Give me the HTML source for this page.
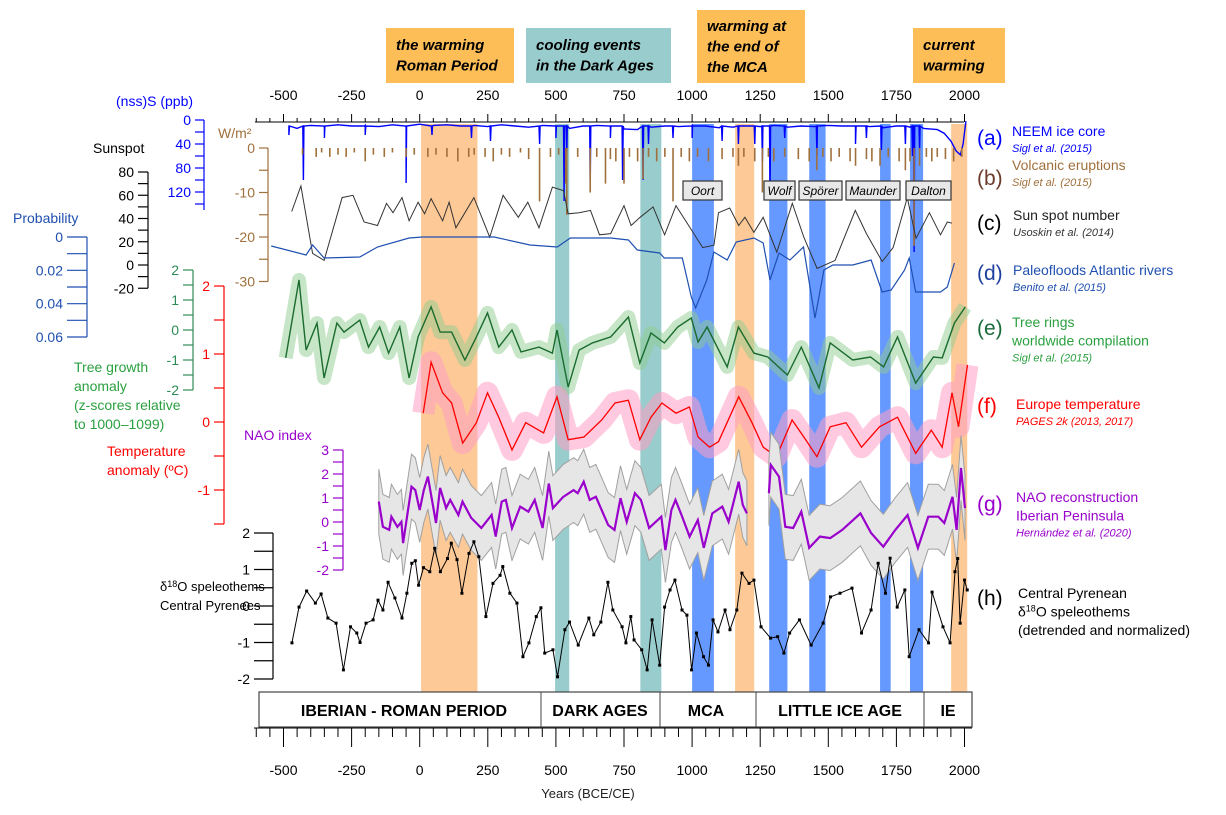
<!DOCTYPE html>
<html><head><meta charset="utf-8"><style>
html,body{margin:0;padding:0;background:#fff;}
svg text{font-family:"Liberation Sans",Arial,sans-serif;}
</style></head><body>
<svg id="chart" width="1226" height="810" viewBox="0 0 1226 810" xmlns="http://www.w3.org/2000/svg">
<g id="bands"></g>
<g id="series"></g>
<g id="axes"></g>
<g id="labels"></g>
</svg>
<script>
// ---------- DATA ----------
const axisTicks = [-500,-250,0,250,500,750,1000,1250,1500,1750,2000];
const bandStart = [5,497,810,1000,1158,1283,1430,1690,1800,1951];
const bandEnd   = [212,549,887,1080,1228,1350,1490,1729,1848,2010];
const bandKind  = ['warm','cool','cool','min','warm','min','min','min','min','warm'];
const minimaNames = ['Oort','Wolf','Spörer','Maunder','Dalton'];
const periodNames = ['IBERIAN - ROMAN PERIOD','DARK AGES','MCA','LITTLE ICE AGE','IE'];

const neemBaseYears = [-480,-450,-400,-350,-300,-250,-200,-150,-100,-50,0,50,100,150,200,250,300,350,400,450,500,550,600,650,700,750,800,850,900,950,1000,1050,1100,1150,1200,1250,1300,1350,1400,1450,1500,1550,1600,1650,1700,1750,1800,1850,1900,1925,1950,1970,1985,1995,2005];
const neemBaseVals  = [10,14,9,12,8,10,9,11,8,12,7,9,8,10,9,11,8,10,12,9,10,14,10,9,11,15,16,12,10,11,9,10,13,12,10,11,9,12,10,11,9,10,12,11,13,10,12,14,16,22,35,52,58,40,2];
const neemSpikeYears = [-480,-427,-350,-200,-50,45,190,260,440,500,530,540,626,700,745,820,840,930,1000,1110,1170,1230,1258,1286,1340,1458,1600,1640,1695,1783,1809,1815,1835];
const neemSpikeVals  = [25,100,30,25,105,25,30,35,40,30,135,60,110,30,100,100,40,30,30,35,40,40,70,130,30,60,40,30,50,40,60,220,50];

const volcYears = [-430,-380,-360,-330,-300,-270,-240,-200,-170,-130,-100,-50,-20,30,60,100,140,180,200,240,270,300,330,370,400,440,480,510,536,540,580,626,650,682,700,720,750,770,800,820,840,870,900,930,960,990,1020,1060,1110,1150,1170,1190,1230,1258,1280,1300,1340,1390,1430,1458,1480,1510,1540,1580,1600,1640,1660,1690,1720,1760,1783,1800,1815,1835,1860,1880,1900,1930,1960,1990];
const volcVals  = [-1.5,-2,-1,-2,-1.5,-2,-1,-3,-1.5,-2,-1,-2,-1.5,-2,-1.5,-2,-3,-2,-1.5,-2,-3,-1.5,-2,-1,-2.5,-12,-2,-1.5,-8,-15,-2,-10,-2,-8,-2.5,-3,-8,-2,-3,-7,-2,-3,-2,-12,-2,-3,-2,-3,-2.5,-2,-4,-2,-3,-10,-2,-3,-2,-2.5,-3,-5,-2,-3,-2,-3,-4,-2.5,-3,-4,-2,-3,-5,-3,-22,-4,-2,-3,-2,-2.5,-3,-2];

const sunYears = [-470,-436,-393,-351,-285,-245,-204,-155,-122,-98,-65,-39,-6,18,42,84,108,133,199,257,306,362,397,438,487,528,545,585,627,660,701,750,776,809,857,899,941,998,1039,1080,1097,1138,1171,1194,1227,1261,1311,1368,1410,1459,1525,1599,1640,1698,1738,1790,1822,1871,1912,1937,1954];
const sunVals  = [46,68,10,4,58,60,37,34,53,45,58,38,54,44,57,38,54,32,58,24,60,41,54,32,67,64,44,45,47,26,27,51,34,41,50,26,51,30,15,17,45,49,34,41,28,41,11,53,24,-3,4,47,27,3,15,58,23,45,26,37,36];

const probYears = [-545,-417,-393,-351,-220,-155,-39,10,273,405,505,553,701,766,799,881,898,964,997,1013,1054,1080,1129,1162,1227,1261,1286,1319,1359,1409,1451,1484,1517,1590,1657,1698,1731,1780,1797,1821,1912,1937,1963];
const probVals  = [0.0054,0.0108,0.0048,0.0126,0.012,0.006,0.0006,0,0,0.0048,0.006,0.0006,0.0006,0.0018,0.0078,0.0096,0.0126,0.0126,0.036,0.0426,0.0258,0.009,0.0138,0.003,0.0006,0.0036,0.0258,0.0096,0.0138,0.006,0.0486,0.0198,0.0168,0.0168,0.0138,0.033,0.0318,0.0198,0.0126,0.033,0.033,0.03,0.0156];

const treeYears = [-492,-443,-417,-377,-351,-304,-278,-220,-188,-147,-114,-73,-39,-6,42,75,117,166,208,249,290,339,372,438,487,504,545,585,634,701,766,808,849,898,947,997,1022,1055,1129,1170,1227,1278,1350,1401,1466,1507,1590,1655,1703,1754,1821,1886,1918,1963,2003];
const treeVals  = [-0.93,1.67,-0.67,0.23,-1.6,0.23,-0.07,0.33,-0.57,0.1,-0.77,0.1,-1.6,-0.23,0.77,-0.07,-0.07,-1.0,-0.23,0.57,-0.57,0,-0.73,-0.57,-0.77,0,-1.9,-0.67,-0.43,-0.23,0.43,-1.1,-0.1,-0.43,0.1,0.4,-0.4,0.1,-1.23,0.1,-0.77,-0.9,-1.5,-0.57,-1.93,-0.43,-1.0,-0.9,-1.23,-0.23,-1.77,-0.9,-0.93,0.23,0.77];

const tempYears = [13,42,84,117,158,208,249,290,339,389,455,504,545,603,668,717,766,808,849,889,941,990,1022,1064,1097,1171,1220,1261,1310,1367,1417,1458,1507,1565,1622,1688,1754,1821,1878,1918,1954,1978,2011];
const tempVals  = [0.13,0.88,0.43,0.28,-0.31,-0.01,0.43,0.07,-0.41,-0.01,-0.16,0.37,-0.26,-0.22,0.03,0.28,0.32,-0.26,0.07,0.28,0.13,0.22,-0.22,-0.37,-0.29,0.37,-0.01,-0.37,-0.51,0.03,-0.26,-0.51,-0.07,-0.01,-0.37,-0.07,0.07,-0.46,-0.12,-0.37,0.43,-0.07,0.84];

const naoYearsA = [-150,-135,-112,-104,-82,-67,-61,-30,-16,0,15,30,60,75,97,112,142,157,189,226,264,279,301,316,339,369,399,422,451,474,489,527,565,580,602,624,647,692,715,737,760,790,812,842,887,902,924,939,961,991,1021,1043,1074,1111,1134,1171,1186,1201];
const naoValsA  = [0.85,-0.2,-0.33,0.22,-0.2,0.01,-0.88,1.47,1.33,0.5,1.33,1.89,-0.04,1.42,0.58,0.92,0.29,0.85,0.17,-0.25,0.29,-0.61,0.85,0.92,-0.25,0.64,0.43,0.92,-0.25,1.6,0.58,1.05,1.33,1.2,1.68,0.92,1.05,-0.13,-0.33,0.99,0.01,1.2,0.92,-0.25,0.22,-1.17,0.5,0.92,0.29,-0.61,0.08,-1.08,0.36,0.64,0.01,1.68,0.71,0.36];
const naoYearsB = [1282,1289,1319,1342,1371,1401,1430,1469,1507,1551,1618,1657,1702,1746,1791,1829,1867,1904,1926,1956,1971,1987,2002];
const naoValsB  = [1.2,2.38,1.89,-0.2,-0.25,0.43,-1.08,-0.61,-0.67,-0.33,0.36,-0.46,-1.03,-0.33,0.29,-1.08,0.22,0.22,-0.04,1.05,-0.33,2.25,0.58];
const naoHalfWidth = 1.35;

const spelYears = [-469,-443,-415,-383,-362,-337,-307,-280,-254,-231,-219,-197,-171,-153,-135,-116,-91,-65,-47,-29,-16,-4,14,37,55,76,102,116,137,155,181,199,217,243,269,295,305,331,357,379,401,428,445,459,489,506,533,550,582,621,639,665,691,709,743,757,775,787,815,835,853,881,899,919,937,963,981,998,1016,1042,1060,1077,1095,1121,1139,1164,1183,1209,1227,1253,1288,1314,1337,1358,1394,1437,1481,1508,1543,1587,1622,1657,1683,1710,1727,1753,1781,1797,1833,1868,1881,1921,1947,1965,1975,1984,2000,2010];
const spelVals  = [-1.01,-0.03,0.41,0.08,0.33,-0.33,-0.47,-1.75,-0.57,-0.74,-1.0,-0.47,-0.38,0.16,-0.11,0.65,0.22,-0.33,0.35,1.17,1.24,0.57,1.05,0.94,1.58,0.94,1.3,1.72,1.27,0.35,1.44,1.76,1.35,-0.29,0.62,0.84,1.08,0.35,0.08,-1.39,-1.01,-0.29,-0.05,-1.29,-1.2,-1.94,-0.65,-0.44,-1.07,-0.33,-0.79,-0.44,0.65,-0.11,-0.57,-1.01,-0.29,-0.93,-1.2,-1.75,-0.38,-1.62,-0.03,0.44,0.71,-0.11,-0.25,-1.75,-0.74,-1.39,-1.62,-0.38,-0.71,-0.11,-0.65,-0.11,0.9,0.62,0.71,-0.57,-0.88,-0.84,-1.29,-0.74,-0.38,-1.07,-0.47,0.25,0.35,0.49,-0.74,-0.11,1.17,0.35,1.31,-0.03,0.44,-1.39,-0.65,-1.01,0.38,-0.57,-1.01,0.94,1.3,-0.47,0.71,0.44];

// ---------- SCALES ----------
const X = yr => 283.5 + (yr + 500) * 0.2724;
const yS = v => 120 + v * 0.6;
const yV = f => 148 - f * 4.45;
const ySun = v => 265 - v * (93 / 80);
const yP = v => 237 + v / 0.06 * 100;
const yT = v => 330 - v * 30;
const yTe = v => 422 - v * 68;
const yN = v => 522 - v * 24;
const yH = v => 606 - v * 36.5;

const NS = 'http://www.w3.org/2000/svg';
function mk(tag, attrs, parent, txt) {
  const e = document.createElementNS(NS, tag);
  for (const k in attrs) e.setAttribute(k, attrs[k]);
  if (txt !== undefined) e.textContent = txt;
  parent.appendChild(e);
  return e;
}
function pathFrom(xs, ys, fx, fy) {
  return xs.map((x, i) => (i ? 'L' : 'M') + fx(x).toFixed(1) + ',' + fy(ys[i]).toFixed(1)).join('');
}
const gB = document.getElementById('bands');
const gS = document.getElementById('series');
const gA = document.getElementById('axes');
const gL = document.getElementById('labels');

// ---------- BANDS ----------
const bandColor = {warm:'#FDC996', cool:'#99CCCC', min:'#6699FF'};
bandStart.forEach((s, i) => {
  const r = mk('rect', {x: X(s), y: 124, width: X(bandEnd[i]) - X(s), height: 569, fill: bandColor[bandKind[i]]}, gB);
  
  
});

// ---------- (a) NEEM ----------
{
  const pts = [];
  neemBaseYears.forEach((y, i) => pts.push([y, neemBaseVals[i]]));
  neemSpikeYears.forEach((y, i) => { pts.push([y - 2, 10]); pts.push([y, neemSpikeVals[i]]); pts.push([y + 2, 10]); });
  pts.sort((a, b) => a[0] - b[0]);
  const p = mk('path', {d: pathFrom(pts.map(p => p[0]), pts.map(p => p[1]), X, yS), fill: 'none', stroke: '#0000FF', 'stroke-width': 1.4}, gS);
  
  
}
// ---------- (b) Volcanic ----------
volcYears.forEach((y, i) => {
  const l = mk('line', {x1: X(y), x2: X(y), y1: 148, y2: yV(volcVals[i]), stroke: '#A0703C', 'stroke-width': 1.6}, gS);
  
  
});
// ---------- (c) Sunspot ----------
{
  const p = mk('path', {d: pathFrom(sunYears, sunVals, X, ySun), fill: 'none', stroke: '#333', 'stroke-width': 1}, gS);
  
  
}
// ---------- (d) Paleofloods ----------
{
  const p = mk('path', {d: pathFrom(probYears, probVals, X, yP), fill: 'none', stroke: '#1F4FB0', 'stroke-width': 1.2}, gS);
  
  
}
// ---------- (e) Tree rings ----------
{
  const e = mk('path', {d: pathFrom(treeYears, treeVals, X, yT), fill: 'none', stroke: '#8FCB8F', 'stroke-width': 14, 'stroke-opacity': 0.5, 'stroke-linejoin': 'round'}, gS);
  
  
  const p = mk('path', {d: pathFrom(treeYears, treeVals, X, yT), fill: 'none', stroke: '#1A6B2E', 'stroke-width': 1.4}, gS);
  
  
}
// ---------- (f) Temperature ----------
{
  const e = mk('path', {d: pathFrom(tempYears, tempVals, X, yTe), fill: 'none', stroke: '#FF9EC4', 'stroke-width': 22, 'stroke-opacity': 0.55, 'stroke-linejoin': 'round'}, gS);
  
  
  const p = mk('path', {d: pathFrom(tempYears, tempVals, X, yTe), fill: 'none', stroke: '#FF0000', 'stroke-width': 1.3}, gS);
  
  
}
// ---------- (g) NAO ----------
[[naoYearsA, naoValsA, 'a'], [naoYearsB, naoValsB, 'b']].forEach(([ys, vs, k]) => {
  const up = ys.map((y, i) => X(y).toFixed(1) + ',' + yN(vs[i] + naoHalfWidth).toFixed(1));
  const lo = ys.map((y, i) => X(y).toFixed(1) + ',' + yN(vs[i] - naoHalfWidth).toFixed(1)).reverse();
  const b = mk('polygon', {points: up.concat(lo).join(' '), fill: '#E6E6E6', stroke: '#A0A0A0', 'stroke-width': 1}, gS);
  
  
  const p = mk('path', {d: pathFrom(ys, vs, X, yN), fill: 'none', stroke: '#9900CC', 'stroke-width': 2.2}, gS);
  
  
});
// ---------- (h) Speleothems ----------
{
  const p = mk('path', {d: pathFrom(spelYears, spelVals, X, yH), fill: 'none', stroke: '#000', 'stroke-width': 1}, gS);
  
  
  spelYears.forEach((y, i) => {
    const r = mk('rect', {x: X(y) - 1.5, y: yH(spelVals[i]) - 1.5, width: 3, height: 3, fill: '#000'}, gS);
    
    
  });
}

// ---------- TIME AXES ----------
mk('line', {x1: 255, x2: 964, y1: 122, y2: 122, stroke: '#000', 'stroke-width': 1}, gA);
mk('line', {x1: 254, x2: 972, y1: 728, y2: 728, stroke: '#000', 'stroke-width': 1}, gA);
for (let yr = -600; yr <= 2000; yr += 50) {
  const x = X(yr);
  if (x < 254) continue;
  const major = (yr % 250 === 0);
  mk('line', {x1: x, x2: x, y1: 122, y2: major ? 114 : 118, stroke: '#000', 'stroke-width': 1}, gA);
  mk('line', {x1: x, x2: x, y1: 728, y2: major ? 747 : 737, stroke: '#000', 'stroke-width': 1}, gA);
}
axisTicks.forEach(t => {
  const a = mk('text', {x: X(t), y: 100, 'font-size': 14, 'text-anchor': 'middle', fill: '#000'}, gA, String(t));
  
  
  const b = mk('text', {x: X(t), y: 775, 'font-size': 14, 'text-anchor': 'middle', fill: '#000'}, gA, String(t));
  
  
});
{
  const t = mk('text', {x: 588, y: 798, 'font-size': 13, 'text-anchor': 'middle', fill: '#222'}, gA, 'Years (BCE/CE)');
  
  
}

// ---------- VALUE AXES ----------
function vAxis(name, x, vals, fy, color, fmt, minor, tickLen) {
  const g = mk('g', {}, gA);
  
  
  const ys = vals.map(fy);
  const y0 = Math.min(...ys), y1 = Math.max(...ys);
  mk('line', {x1: x, x2: x, y1: y0, y2: y1, stroke: color, 'stroke-width': 1.2}, g);
  vals.forEach((v, i) => {
    mk('line', {x1: x - tickLen, x2: x, y1: ys[i], y2: ys[i], stroke: color, 'stroke-width': 1.2}, g);
    mk('text', {x: x - tickLen - 4, y: ys[i] + 5, 'font-size': 14, 'text-anchor': 'end', fill: color}, g, fmt(v));
  });
  minor.forEach(v => mk('line', {x1: x - tickLen, x2: x, y1: fy(v), y2: fy(v), stroke: color, 'stroke-width': 1.2}, g));
  return g;
}
vAxis('sulfate-axis', 204, [0,40,80,120], yS, '#0000FF', String, [20,60,100,140], 9);
mk('line', {x1: 204, x2: 204, y1: 192, y2: yS(150), stroke: '#0000FF', 'stroke-width': 1.2}, gA);
vAxis('forcing-axis', 268, [0,-10,-20,-30], yV, '#A0703C', String, [-5,-15,-25], 9);
vAxis('sunspot-axis', 148, [80,60,40,20,0,-20], ySun, '#000', String, [70,50,30,10,-10], 10);
vAxis('probability-axis', 87, [0,0.02,0.04,0.06], yP, '#1F4FB0', v => String(v), [0.01,0.03,0.05], 20);
vAxis('tree-growth-axis', 193, [2,1,0,-1,-2], yT, '#2E8B57', String, [1.5,0.5,-0.5,-1.5], 10);
vAxis('temperature-axis', 224, [2,1,0,-1], yTe, '#FF0000', String, [1.5,0.5,-0.5,-1.5], 10);
mk('line', {x1: 224, x2: 224, y1: yTe(-1), y2: 524, stroke: '#FF0000', 'stroke-width': 1.2}, gA);
vAxis('nao-axis', 343, [3,2,1,0,-1,-2], yN, '#9900CC', String, [2.5,1.5,0.5,-0.5,-1.5], 10);
vAxis('speleothem-axis', 273, [2,1,0,-1,-2], yH, '#000', String, [1.5,0.5,-0.5,-1.5], 19);

// ---------- AXIS TITLES ----------
function txt(name, x, y, s, size, color, extra) {
  const t = mk('text', Object.assign({x: x, y: y, 'font-size': size, fill: color}, extra || {}), gL, s);
  
  
  return t;
}
txt('sulfate-axis-title', 116, 106, '(nss)S (ppb)', 14, '#0000FF');
txt('forcing-axis-title', 218, 138, 'W/m²', 14, '#A0703C');
txt('sunspot-axis-title', 93, 153, 'Sunspot', 14, '#000');
txt('probability-axis-title', 13, 223, 'Probability', 14, '#1F4FB0');
['Tree growth','anomaly','(z-scores relative','to 1000–1099)'].forEach((s, i) => txt('tree-axis-title-' + i, 74, 372 + i * 19, s, 14, '#2AA040'));
['Temperature','anomaly (ºC)'].forEach((s, i) => txt('temperature-axis-title-' + i, 107, 456 + i * 19, s, 14, '#FF0000'));
txt('nao-axis-title', 244, 440, 'NAO index', 14, '#9900CC');
{
  const t = txt('speleothem-axis-title-0', 160, 591, 'δ', 13, '#000');
  mk('tspan', {'font-size': 9, dy: -4}, t, '18');
  mk('tspan', {dy: 4}, t, 'O speleothems');
  txt('speleothem-axis-title-1', 160, 610, 'Central Pyrenees', 13, '#000');
}

// ---------- TOP BOXES ----------
const topBoxes = [
  {x:386,y:28,w:128,h:55,c:'#FDBE58',lines:['the warming','Roman Period'],ly:50,n:'roman-warming-box'},
  {x:526,y:28,w:145,h:55,c:'#99CCCC',lines:['cooling events','in the Dark Ages'],ly:50,n:'dark-ages-cooling-box'},
  {x:697,y:10,w:108,h:73,c:'#FDBE58',lines:['warming at','the end of','the MCA'],ly:31,n:'mca-warming-box'},
  {x:913,y:28,w:92,h:55,c:'#FDBE58',lines:['current','warming'],ly:50,n:'current-warming-box'}
];
topBoxes.forEach(b => {
  const g = mk('g', {}, gL);
  
  
  mk('rect', {x: b.x, y: b.y, width: b.w, height: b.h, fill: b.c}, g);
  b.lines.forEach((s, i) => mk('text', {x: b.x + 10, y: b.ly + i * 20.5, 'font-size': 15, 'font-weight': 'bold', 'font-style': 'italic', fill: '#000'}, g, s));
});

// ---------- MINIMA LABELS ----------
const minimaBoxes = [[683,181,39],[764,181,31],[799,181,43],[846,181,54],[906,181,45]];
minimaNames.forEach((n, i) => {
  const [x, y, w] = minimaBoxes[i];
  const g = mk('g', {}, gL);
  
  
  mk('rect', {x: x, y: y, width: w, height: 19, fill: '#E8E8E8', stroke: '#333', 'stroke-width': 1.2}, g);
  mk('text', {x: x + w / 2, y: y + 14, 'font-size': 12, 'font-style': 'italic', 'text-anchor': 'middle', fill: '#000'}, g, n);
});

// ---------- PERIOD BOX ----------
{
  const g = mk('g', {}, gL);
  
  
  mk('rect', {x: 259, y: 692, width: 713, height: 35, fill: '#fff', stroke: '#444', 'stroke-width': 1.2}, g);
  [541, 660, 756, 924].forEach(x => mk('line', {x1: x, x2: x, y1: 692, y2: 727, stroke: '#444', 'stroke-width': 1}, g));
  const cx = [404, 600, 706, 840, 948];
  periodNames.forEach((n, i) => {
    const t = mk('text', {x: cx[i], y: 716, 'font-size': 16, 'font-weight': 'bold', 'text-anchor': 'middle', fill: '#000'}, g, n);
    
    
  });
}

// ---------- RIGHT LEGEND ----------
const legend = [
  {l:'(a)',ly:138,lc:'#0000FF',lines:['NEEM ice core'],cite:'Sigl et al. (2015)',nc:'#0000FF',cc:'#0000FF',ty:136,tx:1012},
  {l:'(b)',ly:178,lc:'#6B3A2A',lines:['Volcanic eruptions'],cite:'Sigl et al. (2015)',nc:'#A0703C',cc:'#A0703C',ty:170,tx:1012},
  {l:'(c)',ly:223,lc:'#000',lines:['Sun spot number'],cite:'Usoskin et al. (2014)',nc:'#222',cc:'#333',ty:220,tx:1013},
  {l:'(d)',ly:273,lc:'#1F3F9F',lines:['Paleofloods Atlantic rivers'],cite:'Benito et al. (2015)',nc:'#1F4FB0',cc:'#1F4FB0',ty:275,tx:1013},
  {l:'(e)',ly:328,lc:'#1A6B3A',lines:['Tree rings','worldwide compilation'],cite:'Sigl et al. (2015)',nc:'#2AA040',cc:'#2AA040',ty:327,tx:1012},
  {l:'(f)',ly:406,lc:'#FF0000',lines:['Europe temperature'],cite:'PAGES 2k (2013, 2017)',nc:'#FF0000',cc:'#FF0000',ty:409,tx:1016},
  {l:'(g)',ly:504,lc:'#9900CC',lines:['NAO reconstruction','Iberian Peninsula'],cite:'Hernández et al. (2020)',nc:'#9900CC',cc:'#9900CC',ty:502,tx:1016},
  {l:'(h)',ly:598,lc:'#000',lines:['Central Pyrenean',null,'(detrended and normalized)'],cite:null,nc:'#000',cc:'#000',ty:598,tx:1018}
];
legend.forEach((e, i) => {
  const g = mk('g', {}, gL);
  
  
  mk('text', {x: 977, y: e.ly + 7, 'font-size': 21, fill: e.lc}, g, e.l);
  e.lines.forEach((s, j) => {
    if (s === null) {
      const t = mk('text', {x: e.tx, y: e.ty + j * 18.5, 'font-size': 14, fill: e.nc}, g, 'δ');
      mk('tspan', {'font-size': 9, dy: -5}, t, '18');
      mk('tspan', {dy: 5}, t, 'O speleothems');
    } else {
      mk('text', {x: e.tx, y: e.ty + j * 18.5, 'font-size': 14, fill: e.nc}, g, s);
    }
  });
  if (e.cite) mk('text', {x: e.tx, y: e.ty + (e.lines.length - 1) * 18.5 + 16, 'font-size': 11, 'font-style': 'italic', fill: e.cc}, g, e.cite);
});
</script>
</body></html>
